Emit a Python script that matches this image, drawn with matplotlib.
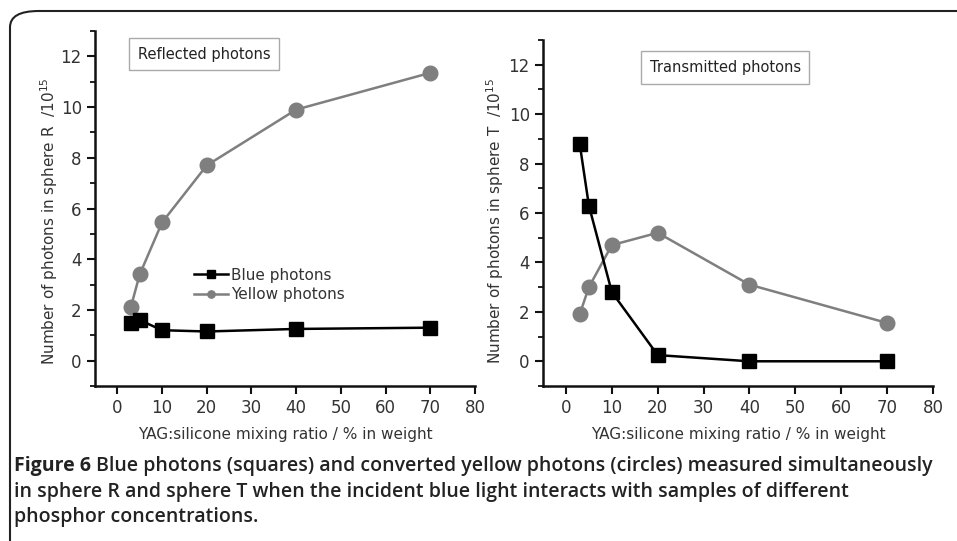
import matplotlib
matplotlib.use("Agg")
import matplotlib.pyplot as plt
from matplotlib.patches import FancyBboxPatch
from matplotlib.ticker import MultipleLocator

# data
ratio = [3, 5, 10, 20, 40, 70]
refl_blue = [1.5, 1.6, 1.2, 1.15, 1.25, 1.3]
refl_yellow = [2.1, 3.4, 5.45, 7.7, 9.9, 11.35]
trans_blue = [8.8, 6.3, 2.8, 0.25, 0.0, 0.0]
trans_yellow = [1.9, 3.0, 4.7, 5.2, 3.1, 1.55]

xticks = [0, 10, 20, 30, 40, 50, 60, 70, 80]
yticks = [0, 2, 4, 6, 8, 10, 12]

fig = plt.figure(figsize=(9.57, 5.41), dpi=100)

# rounded frame around the whole figure panel
frame = FancyBboxPatch((10/957, -0.2), 1.2, 1.2 - 11/541,
                       boxstyle="round,pad=0,rounding_size=0.03",
                       transform=fig.transFigure, fill=False,
                       edgecolor="#222222", linewidth=1.5, clip_on=False)
fig.patches.append(frame)

ax1 = fig.add_axes([95/957, 155/541, 380/957, 355/541])
ax2 = fig.add_axes([543/957, 155/541, 390/957, 346/541])


def style(ax, ylab, ylab_xy, boxtext, boxpos):
    ax.set_xlim(-5, 80)
    ax.set_ylim(-1, 13)
    ax.set_xticks(xticks)
    ax.set_yticks(yticks)
    ax.yaxis.set_minor_locator(MultipleLocator(1))
    for s in ["top", "right"]:
        ax.spines[s].set_visible(False)
    for s in ["left", "bottom"]:
        ax.spines[s].set_linewidth(1.8)
        ax.spines[s].set_color("#111111")
    ax.tick_params(which="major", direction="out", length=6, width=1.5,
                   labelsize=12, colors="#111111", labelcolor="#333333")
    ax.tick_params(which="minor", direction="out", length=3.5, width=1.3,
                   colors="#111111")
    ax.set_xlabel("YAG:silicone mixing ratio / % in weight", fontsize=11,
                  color="#333333", labelpad=7)
    ax.set_ylabel(ylab, fontsize=11, color="#333333")
    ax.yaxis.set_label_coords(*ylab_xy)
    ax.text(boxpos[0], boxpos[1], boxtext, transform=ax.transAxes,
            fontsize=10.5, color="#222222", va="center", ha="center",
            bbox=dict(boxstyle="square,pad=0.6", fc="white", ec="#aaaaaa", lw=1))


ax1.plot(ratio, refl_yellow, "-o", color="#7f7f7f", ms=10.5, lw=1.8,
         label="Yellow photons")
ax1.plot(ratio, refl_blue, "-s", color="black", ms=10.5, lw=1.8,
         label="Blue photons")
style(ax1, "Number of photons in sphere R  /10$^{15}$", (-0.092, 0.465),
      "Reflected photons", (0.287, 0.935))
h, l = ax1.get_legend_handles_labels()
leg = ax1.legend(h[::-1], l[::-1], loc="upper left",
                 bbox_to_anchor=(0.225, 0.372), frameon=False, fontsize=11,
                 handlelength=2.2, handletextpad=0.2, labelspacing=0.3,
                 markerscale=0.5)
for t in leg.get_texts():
    t.set_color("#333333")

ax2.plot(ratio, trans_yellow, "-o", color="#7f7f7f", ms=10.5, lw=1.8)
ax2.plot(ratio, trans_blue, "-s", color="black", ms=10.5, lw=1.8)
style(ax2, "Number of photons in sphere T  /10$^{15}$", (-0.095, 0.477),
      "Transmitted photons", (0.467, 0.92))

# caption
cap_font = "Open Sans"
cap_size = 14
lines = ["Blue photons (squares) and converted yellow photons (circles) measured simultaneously",
         "in sphere R and sphere T when the incident blue light interacts with samples of different",
         "phosphor concentrations."]
ys = [466, 492, 517]
lab = fig.text(14/957, 1 - ys[0]/541, "Figure 6", fontsize=cap_size,
               fontweight="bold", family=cap_font, va="center", color="#222222")
fig.canvas.draw()
bb = lab.get_window_extent()
x_after = (bb.x1 + 5) / 957
fig.text(x_after, 1 - ys[0]/541, lines[0], fontsize=cap_size,
         fontweight="semibold", family=cap_font, va="center", color="#222222")
for line, y in zip(lines[1:], ys[1:]):
    fig.text(14/957, 1 - y/541, line, fontsize=cap_size, fontweight="semibold",
             family=cap_font, va="center", color="#222222")

fig.savefig("out.png", dpi=100)
